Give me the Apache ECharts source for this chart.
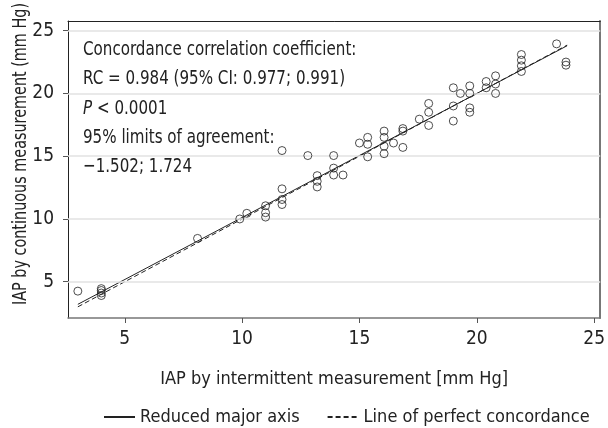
<!DOCTYPE html>
<html>
<head>
<meta charset="utf-8" />
<title></title>
<script src="https://cdn.jsdelivr.net/npm/echarts@6/dist/echarts.min.js"></script>
<style>
*{padding:0;margin:0;}
.main{width:608px;height:428px;}
</style>
</head>
<body>
<div id="main" class="main"></div>
<script type="text/javascript">
// values
var points = [
  [3.0, 4.25],
  [4.0, 4.45], [4.0, 4.3], [4.0, 4.1], [4.0, 3.9],
  [8.1, 8.45],
  [9.9, 10.0],
  [10.2, 10.45],
  [11.0, 11.05], [11.0, 10.5], [11.0, 10.15],
  [11.7, 15.45], [11.7, 12.4], [11.7, 11.55], [11.7, 11.15],
  [12.8, 15.05],
  [13.2, 13.45], [13.2, 13.0], [13.2, 12.55],
  [13.9, 15.05], [13.9, 14.05], [13.9, 13.5],
  [14.3, 13.5],
  [15.0, 16.05],
  [15.35, 16.5], [15.35, 15.95], [15.35, 14.95],
  [16.05, 17.0], [16.05, 16.5], [16.05, 15.8], [16.05, 15.2],
  [16.45, 16.05],
  [16.85, 17.2], [16.85, 17.0], [16.85, 15.7],
  [17.55, 17.95],
  [17.95, 19.2], [17.95, 18.5], [17.95, 17.45],
  [19.0, 20.45], [19.0, 19.0], [19.0, 17.8],
  [19.3, 20.0],
  [19.7, 20.6], [19.7, 20.0], [19.7, 18.85], [19.7, 18.5],
  [20.4, 20.95], [20.4, 20.45],
  [20.8, 21.4], [20.8, 20.75], [20.8, 20.0],
  [21.9, 23.1], [21.9, 22.65], [21.9, 22.2], [21.9, 21.75],
  [23.4, 23.95],
  [23.8, 22.5], [23.8, 22.25]
];
var rmaLine = [[3.0, 3.2], [23.85, 23.8]];
var perfectLine = [[3.0, 3.0], [23.85, 23.85]];
var xTicks = [5, 10, 15, 20, 25];
var yTicks = [5, 10, 15, 20, 25];
var noteLines = [
  'Concordance correlation coefficient:',
  'RC = 0.984 (95% CI: 0.977; 0.991)',
  '{i|P} < 0.0001',
  '95% limits of agreement:',
  '\u22121.502; 1.724'
];

var font = "'Liberation Sans Narrow', 'DejaVu Sans Condensed', sans-serif";
var myChart = echarts.init(document.getElementById('main'));

//annotation text block (condensed face in the original, so squeeze it)
var notes = noteLines.map(function (t, i) {
  return {
    type: 'text',
    x: 83,
    y: 50 + i * 29.2,
    scaleX: 0.84,
    style: {
      text: t,
      fontSize: 20,
      fontFamily: font,
      fill: '#222',
      verticalAlign: 'middle',
      rich: {
        i: {fontStyle: 'italic', fontSize: 20, fontFamily: font, fill: '#222'}
      }
    },
    z: 10
  };
});

// y axis title
notes.push({
  type: 'text',
  x: 21,
  y: 154,
  rotation: Math.PI / 2,
  scaleX: 0.8,
  style: {
    text: 'IAP by continuous measurement (mm Hg)',
    fontSize: 20,
    fontFamily: font,
    fill: '#222',
    align: 'center',
    verticalAlign: 'middle'
  }
});

var option = {
  backgroundColor: '#fff',
  animation: false,
  grid: {left: 68, right: 3, top: 21, bottom: 110},
  legend: {
    data: ['Reduced major axis', 'Line of perfect concordance'],
    left: 103,
    top: 408,
    padding: 0,
    width: 560,
    itemWidth: 31,
    itemHeight: 12,
    itemGap: 27,
    itemStyle: {opacity: 0},
    textStyle: {fontSize: 18, fontFamily: font, color: '#222'}
  },
  xAxis: [{
    type: 'value',
    min: 2.58,
    max: 25.26,
    name: 'IAP by intermittent measurement [mm Hg]',
    nameLocation: 'middle',
    nameGap: 52,
    nameTextStyle: {fontSize: 18, fontFamily: font, color: '#222'},
    axisLine: {show: true, onZero: false, lineStyle: {color: '#777', width: 1.5}},
    axisTick: {show: true, length: 5, customValues: xTicks, lineStyle: {color: '#555'}},
    axisLabel: {customValues: xTicks, margin: 12, fontSize: 19, fontFamily: font, color: '#222'},
    splitLine: {show: false}
  }, {
    type: 'value',
    position: 'top',
    min: 2.58,
    max: 25.26,
    axisLine: {show: true, onZero: false, lineStyle: {color: '#222', width: 1}},
    axisTick: {show: false},
    axisLabel: {show: false},
    splitLine: {show: false}
  }],
  yAxis: [{
    type: 'value',
    min: 2.11,
    max: 25.77,
    axisLine: {show: true, onZero: false, lineStyle: {color: '#222', width: 1}},
    axisTick: {show: true, length: 5, customValues: yTicks, lineStyle: {color: '#555'}},
    axisLabel: {customValues: yTicks, margin: 14, fontSize: 19, fontFamily: font, color: '#222'},
    splitLine: {show: false}
  }, {
    type: 'value',
    position: 'right',
    min: 2.11,
    max: 25.77,
    axisLine: {show: true, onZero: false, lineStyle: {color: '#777', width: 2}},
    axisTick: {show: false},
    axisLabel: {show: false},
    splitLine: {show: false}
  }],
  graphic: notes,
  series: [{
    name: 'grid',
    type: 'line',
    data: [],
    z: 1,
    silent: true,
    markLine: {
      silent: true,
      symbol: ['none', 'none'],
      label: {show: false},
      lineStyle: {color: '#e2e2e2', type: 'solid', width: 1.5},
      data: yTicks.map(function (v) { return {yAxis: v}; })
    }
  }, {
    name: 'Line of perfect concordance',
    type: 'line',
    data: perfectLine,
    symbol: 'none',
    z: 3,
    lineStyle: {color: '#222', width: 1, type: [5, 3]},
    itemStyle: {color: '#222'}
  }, {
    name: 'Reduced major axis',
    type: 'line',
    data: rmaLine,
    symbol: 'none',
    z: 4,
    lineStyle: {color: '#222', width: 1},
    itemStyle: {color: '#222'}
  }, {
    name: 'points',
    type: 'scatter',
    data: points,
    symbol: 'circle',
    symbolSize: 8,
    z: 5,
    itemStyle: {color: 'rgba(0,0,0,0)', borderColor: '#222', borderWidth: 1}
  }]
};

myChart.setOption(option);
</script>
</body>
</html>
